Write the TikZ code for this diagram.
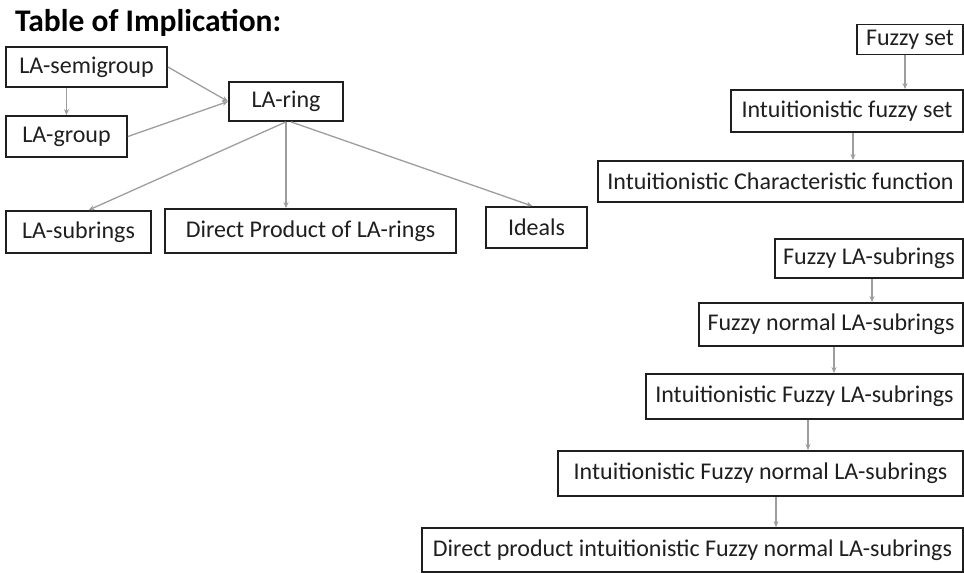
\documentclass[tikz,border=0pt]{standalone}
\usepackage{fontspec}
\setmainfont{Carlito}
\usetikzlibrary{arrows.meta}
\begin{document}
\begin{tikzpicture}[x=1bp,y=-1bp,
  box/.style={draw=black!88, line width=1.8bp, inner sep=0pt,
    font=\fontsize{24bp}{28bp}\selectfont, text=black!88},
  arr/.style={draw=black!38, line width=1.3bp, -{Stealth[length=6bp,width=5bp]}}]
\useasboundingbox[fill=white] (0,0) rectangle (964,573);

\node[anchor=base west, inner sep=0pt, font=\fontsize{31.5bp}{36bp}\selectfont\bfseries] (title) at (15,32) {Table of Implication:};

% left part
\node[box, minimum width=161bp, minimum height=40bp] (semi) at (86.5,67) {LA-semigroup};
\node[box, minimum width=121bp, minimum height=41bp] (group) at (66.5,136.5) {LA-group};
\node[box, minimum width=114bp, minimum height=39bp] (ring) at (286,101.5) {LA-ring};
\node[box, minimum width=145bp, minimum height=42bp] (subr) at (78.5,232) {LA-subrings};
\node[box, minimum width=291bp, minimum height=44bp] (dprod) at (310.5,231) {Direct Product of LA-rings};
\node[box, minimum width=101bp, minimum height=41bp] (ideals) at (536.5,227.5) {Ideals};

% right part
\node[box, minimum width=106bp, minimum height=30bp] (fset) at (910,39.5) {Fuzzy set};
\node[box, minimum width=232bp, minimum height=42bp] (ifset) at (847,111) {Intuitionistic fuzzy set};
\node[box, minimum width=365bp, minimum height=41bp] (icf) at (780.5,181.5) {Intuitionistic Characteristic function};
\node[box, minimum width=188bp, minimum height=39bp] (flas) at (869,258.5) {Fuzzy LA-subrings};
\node[box, minimum width=264bp, minimum height=43bp] (fnlas) at (831,324.5) {Fuzzy normal LA-subrings};
\node[box, minimum width=317bp, minimum height=45bp] (iflas) at (804.5,396.5) {Intuitionistic Fuzzy LA-subrings};
\node[box, minimum width=405bp, minimum height=45bp] (ifnlas) at (760.5,473.5) {Intuitionistic Fuzzy normal LA-subrings};
\node[box, minimum width=541bp, minimum height=44bp] (dpif) at (692.5,550) {Direct product intuitionistic Fuzzy normal LA-subrings};

% left connectors
\draw[arr] (semi.south -| group.north) -- (group.north);
\draw[arr] (semi.east) -- (ring.west);
\draw[arr] (group.east) -- (ring.west);
\draw[arr] (ring.south) -- ([xshift=10bp]subr.north);
\draw[arr] (ring.south) -- (ring.south |- dprod.north);
\draw[arr] ([xshift=5bp]ring.south) -- ([xshift=-4bp]ideals.north);

% right connectors
\coordinate (c1) at (905,0);
\coordinate (c2) at (853,0);
\coordinate (c3) at (872,0);
\coordinate (c4) at (834,0);
\coordinate (c5) at (808,0);
\coordinate (c6) at (776,0);
\draw[arr] (fset.south -| c1) -- (ifset.north -| c1);
\draw[arr] (ifset.south -| c2) -- (icf.north -| c2);
\draw[arr] (flas.south -| c3) -- (fnlas.north -| c3);
\draw[arr] (fnlas.south -| c4) -- (iflas.north -| c4);
\draw[arr] (iflas.south -| c5) -- (ifnlas.north -| c5);
\draw[arr] (ifnlas.south -| c6) -- (dpif.north -| c6);
\end{tikzpicture}
\end{document}
